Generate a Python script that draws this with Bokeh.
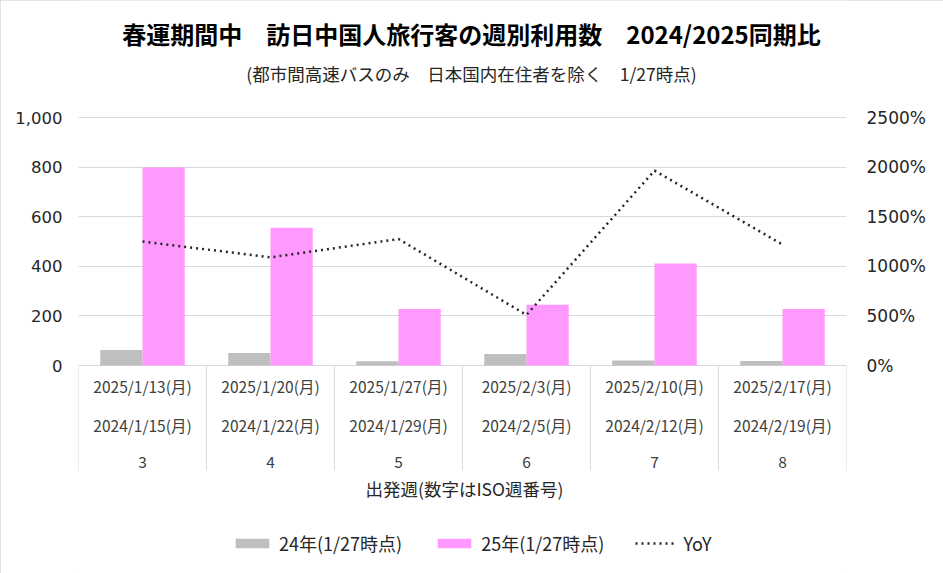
from bokeh.plotting import figure
from bokeh.models import (FactorRange, Range1d, LinearAxis, FixedTicker, NumeralTickFormatter,
                          PrintfTickFormatter, ColumnDataSource, Legend, LegendItem, Label)
from bokeh.transform import dodge
from bokeh.core.properties import value
from bokeh.embed import file_html
from bokeh.resources import INLINE

# ---- data ----
weeks = ["3", "4", "5", "6", "7", "8"]
dates_2025 = ["2025/1/13(月)", "2025/1/20(月)", "2025/1/27(月)", "2025/2/3(月)", "2025/2/10(月)", "2025/2/17(月)"]
dates_2024 = ["2024/1/15(月)", "2024/1/22(月)", "2024/1/29(月)", "2024/2/5(月)", "2024/2/12(月)", "2024/2/19(月)"]
users_2024 = [63, 50, 17, 46, 20, 18]
users_2025 = [798, 555, 228, 245, 411, 228]
yoy_pct = [1250, 1090, 1275, 510, 1965, 1220]

left_ticks = [0, 200, 400, 600, 800, 1000]
right_ticks = [0, 500, 1000, 1500, 2000, 2500]

title_text = "春運期間中　訪日中国人旅行客の週別利用数　2024/2025同期比"
subtitle_text = "(都市間高速バスのみ　日本国内在住者を除く　1/27時点)"
xaxis_title = "出発週(数字はISO週番号)"
legend_labels = ["24年(1/27時点)", "25年(1/27時点)", "YoY"]

JP = value("Noto Sans CJK JP")
NUM = "DejaVu Sans"

# ---- layout constants (pixels) ----
W, H = 943, 573
FRAME_L, FRAME_R = 78, 846
Y0_PX, Y1000_PX = 365, 117           # pixel rows of value 0 and 1000
ppu = (Y0_PX - Y1000_PX) / 1000.0    # pixels per unit
y_top = 1000 + Y1000_PX / ppu
y_bot = -(H - Y0_PX) / ppu

def to_val(px_row):
    return (Y0_PX - px_row) / ppu

row_y = [to_val(385), to_val(424), to_val(461)]
table_bottom = to_val(470)

src = ColumnDataSource(dict(week=weeks, d25=dates_2025, d24=dates_2024,
                            y24=users_2024, y25=users_2025, yoy=yoy_pct,
                            r1=[row_y[0]] * 6, r2=[row_y[1]] * 6, r3=[row_y[2]] * 6,
                            top0=[0] * 6, bot=[table_bottom] * 6))

p = figure(width=W, height=H, x_range=FactorRange(factors=weeks, range_padding=0),
           y_range=Range1d(y_bot, y_top), output_backend="svg", toolbar_location=None,
           min_border_left=FRAME_L, min_border_right=W - FRAME_R, min_border_top=0, min_border_bottom=0,
           background_fill_color="white", border_fill_color="white",
           styles={"outline": "1px solid #d9d9d9", "outline-offset": "-1px"})
p.outline_line_color = None
p.xgrid.grid_line_color = None
p.ygrid.ticker = FixedTicker(ticks=left_ticks)
p.ygrid.grid_line_color = "#d9d9d9"
p.ygrid.grid_line_width = 1
p.xaxis.visible = False

p.extra_y_ranges = {"yoy": Range1d(y_bot * 2.5, y_top * 2.5)}

# left axis
ya = p.yaxis[0]
ya.ticker = FixedTicker(ticks=left_ticks)
ya.formatter = NumeralTickFormatter(format="0,0")
ya.axis_line_color = None
ya.major_tick_line_color = None
ya.minor_tick_line_color = None
ya.major_tick_out = 0
ya.major_tick_in = 0
ya.major_label_standoff = 16
ya.major_label_text_font = NUM
ya.major_label_text_font_size = "16.5px"
ya.major_label_text_color = "#262626"

# right axis
ra = LinearAxis(y_range_name="yoy", ticker=FixedTicker(ticks=right_ticks),
                formatter=PrintfTickFormatter(format="%d%%"))
ra.axis_line_color = None
ra.major_tick_line_color = None
ra.minor_tick_line_color = None
ra.major_tick_out = 0
ra.major_tick_in = 0
ra.major_label_standoff = 20
ra.major_label_text_font = NUM
ra.major_label_text_font_size = "17px"
ra.major_label_text_color = "#262626"
p.add_layout(ra, "right")

# table lines
p.segment(x0=dodge("week", -0.5, range=p.x_range), x1=dodge("week", -0.5, range=p.x_range),
          y0="top0", y1="bot", source=src, line_color="#d9d9d9", line_width=1)
last = ColumnDataSource(dict(week=weeks[-1:], top0=[0], bot=[table_bottom]))
p.segment(x0=dodge("week", 0.5, range=p.x_range), x1=dodge("week", 0.5, range=p.x_range),
          y0="top0", y1="bot", source=last, line_color="#d9d9d9", line_width=1)

# table texts
for col, ycol in (("d25", "r1"), ("d24", "r2"), ("week", "r3")):
    p.text(x="week", y=ycol, text=col, source=src, text_align="center", text_baseline="middle",
           text_font=JP, text_font_size="15.5px", text_color="#404040")

# bars
b24 = p.vbar(x=dodge("week", -0.165, range=p.x_range), top="y24", width=0.33, source=src,
             fill_color="#bfbfbf", line_color=None)
b25 = p.vbar(x=dodge("week", 0.165, range=p.x_range), top="y25", width=0.33, source=src,
             fill_color="#ff99ff", line_color=None)
ln = p.line(x="week", y="yoy", source=src, y_range_name="yoy", line_color="#262626",
            line_width=2.5, line_dash="2 4")

legend = Legend(items=[LegendItem(label=legend_labels[0], renderers=[b24]),
                       LegendItem(label=legend_labels[1], renderers=[b25]),
                       LegendItem(label=legend_labels[2], renderers=[ln])],
                orientation="horizontal", location=(231 - FRAME_L, 17), border_line_color=None,
                background_fill_alpha=0, padding=0, margin=0, spacing=31,
                glyph_width=42, glyph_height=12, label_standoff=6,
                label_text_font="Noto Sans CJK JP", label_text_font_size="18px",
                label_text_color="#262626")
p.add_layout(legend, "center")

# titles (screen units measured from frame's bottom-left)
p.add_layout(Label(x=471 - FRAME_L, y=H - 33, x_units="screen", y_units="screen", text=title_text,
                   text_align="center", text_baseline="middle", text_font="Noto Sans CJK JP",
                   text_font_style="bold", text_font_size="24px", text_color="#000000"))
p.add_layout(Label(x=471 - FRAME_L, y=H - 73, x_units="screen", y_units="screen", text=subtitle_text,
                   text_align="center", text_baseline="middle", text_font="Noto Sans CJK JP",
                   text_font_size="17.5px", text_color="#262626"))
p.add_layout(Label(x=464 - FRAME_L, y=H - 488, x_units="screen", y_units="screen", text=xaxis_title,
                   text_align="center", text_baseline="middle", text_font="Noto Sans CJK JP",
                   text_font_size="17.5px", text_color="#262626"))

open("out.html", "w").write(file_html(p, INLINE))
